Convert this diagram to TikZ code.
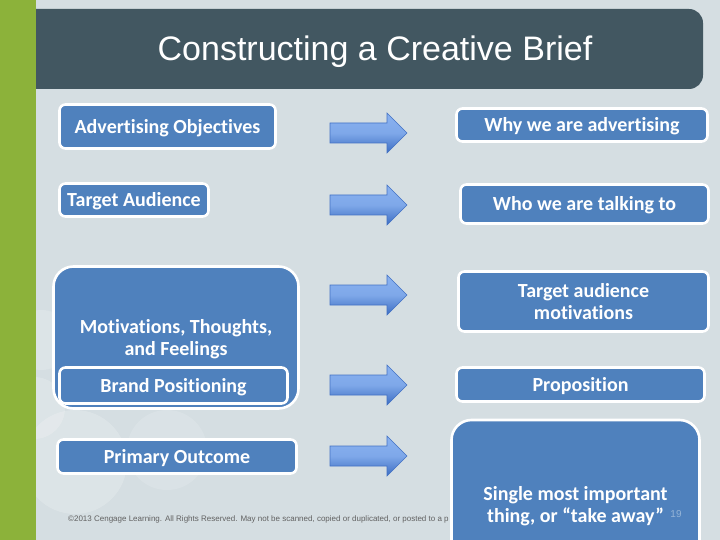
\documentclass[tikz,border=0pt]{standalone}
\usepackage{fontspec}
\setmainfont{Carlito}[Ligatures=NoCommon]
\newfontfamily\arialfont{Liberation Sans}
\definecolor{bgc}{HTML}{D5DEE2}
\definecolor{greenc}{HTML}{8CB23A}
\definecolor{titlec}{HTML}{425761}
\definecolor{boxc}{HTML}{4F81BD}
\definecolor{arrtop}{HTML}{8AB2F0}
\definecolor{arrbot}{HTML}{3C6DC2}
\definecolor{arredge}{HTML}{4472C4}
\tikzset{
  box/.style={draw=white, line width=2.6pt, fill=boxc, rounded corners=6pt,
    text=white, font=\fontsize{20}{22}\selectfont\bfseries, align=center, inner sep=0pt,
    text depth=0.1em},
  bigbox/.style={box, rounded corners=20pt},
  blockarrow/.style={top color=arrtop, bottom color=arrbot, middle color=arrtop!85!arrbot, draw=arredge, line width=0.6pt},
  deco/.style={fill=white, fill opacity=0.14}
}
\begin{document}
\begin{tikzpicture}[x=1pt,y=-1pt]
\useasboundingbox (0,0) rectangle (720,540);
\fill[bgc] (0,0) rectangle (720,540);
% decorative circles
\fill[deco] (42,340) circle (30);
\fill[deco] (34,408) circle (31);
\fill[deco] (75,462) circle (52);
\fill[deco] (167,450) circle (40);
% green strip
\fill[greenc] (0,0) rectangle (36,540);
\fill[white, fill opacity=0.08] (40,340) circle (30);
\fill[white, fill opacity=0.08] (34,408) circle (31);
\fill[white, fill opacity=0.08] (75,462) circle (52);
% title bar
\fill[titlec, rounded corners=14pt] (14,9) rectangle (703,89);
\fill[titlec] (36,9) rectangle (60,89);
\fill[greenc] (0,0) rectangle (36,540);
\node[text=white, font=\arialfont\fontsize{34}{38}\selectfont] (title) at (375,52) {Constructing a Creative Brief};
% copyright
\node[anchor=west, inner sep=0pt, text=black!62, font=\arialfont\fontsize{8}{9}\selectfont] (copy) at (68,519) {©2013 Cengage Learning. All Rights Reserved. May not be scanned, copied or duplicated, or posted to a p};
% left boxes
\node[box, minimum width=216pt, minimum height=44pt] (ao) at (167.5,126.5) {Advertising Objectives};
\node[box, minimum width=149pt, minimum height=33pt] (ta) at (134,200) {Target Audience};
\node[bigbox, minimum width=245pt, minimum height=142pt] (mtf) at (176,337.5) {Motivations, Thoughts,\\and Feelings};
\node[box, minimum width=228pt, minimum height=36pt] (bp) at (173.5,385.5) {Brand Positioning};
\node[box, minimum width=239pt, minimum height=34pt] (po) at (177,456.5) {Primary Outcome};
% right boxes
\node[box, minimum width=251pt, minimum height=33pt] (why) at (582,125) {Why we are advertising};
\node[box, minimum width=248pt, minimum height=39pt] (who) at (584.5,204) {Who we are talking to};
\node[box, minimum width=250pt, minimum height=60pt] (tam) at (583.5,301.5) {Target audience\\motivations};
\node[box, minimum width=248pt, minimum height=34pt] (prop) at (580.5,384.5) {Proposition};
\node[bigbox, minimum width=248pt, minimum height=170pt] (smi) at (575.5,505) {Single most important\\thing, or “take away”};
\node[text=boxc!60!white, font=\arialfont\fontsize{10}{11}\selectfont, inner sep=0pt] (num) at (676,514) {19};
% block arrows
\foreach \cy in {133,205,295,385,456}{
  \shade[blockarrow] (330,\cy-10) -- (387,\cy-10) -- (387,\cy-20) -- (407,\cy) -- (387,\cy+20) -- (387,\cy+10) -- (330,\cy+10) -- cycle;
}
\end{tikzpicture}
\end{document}
